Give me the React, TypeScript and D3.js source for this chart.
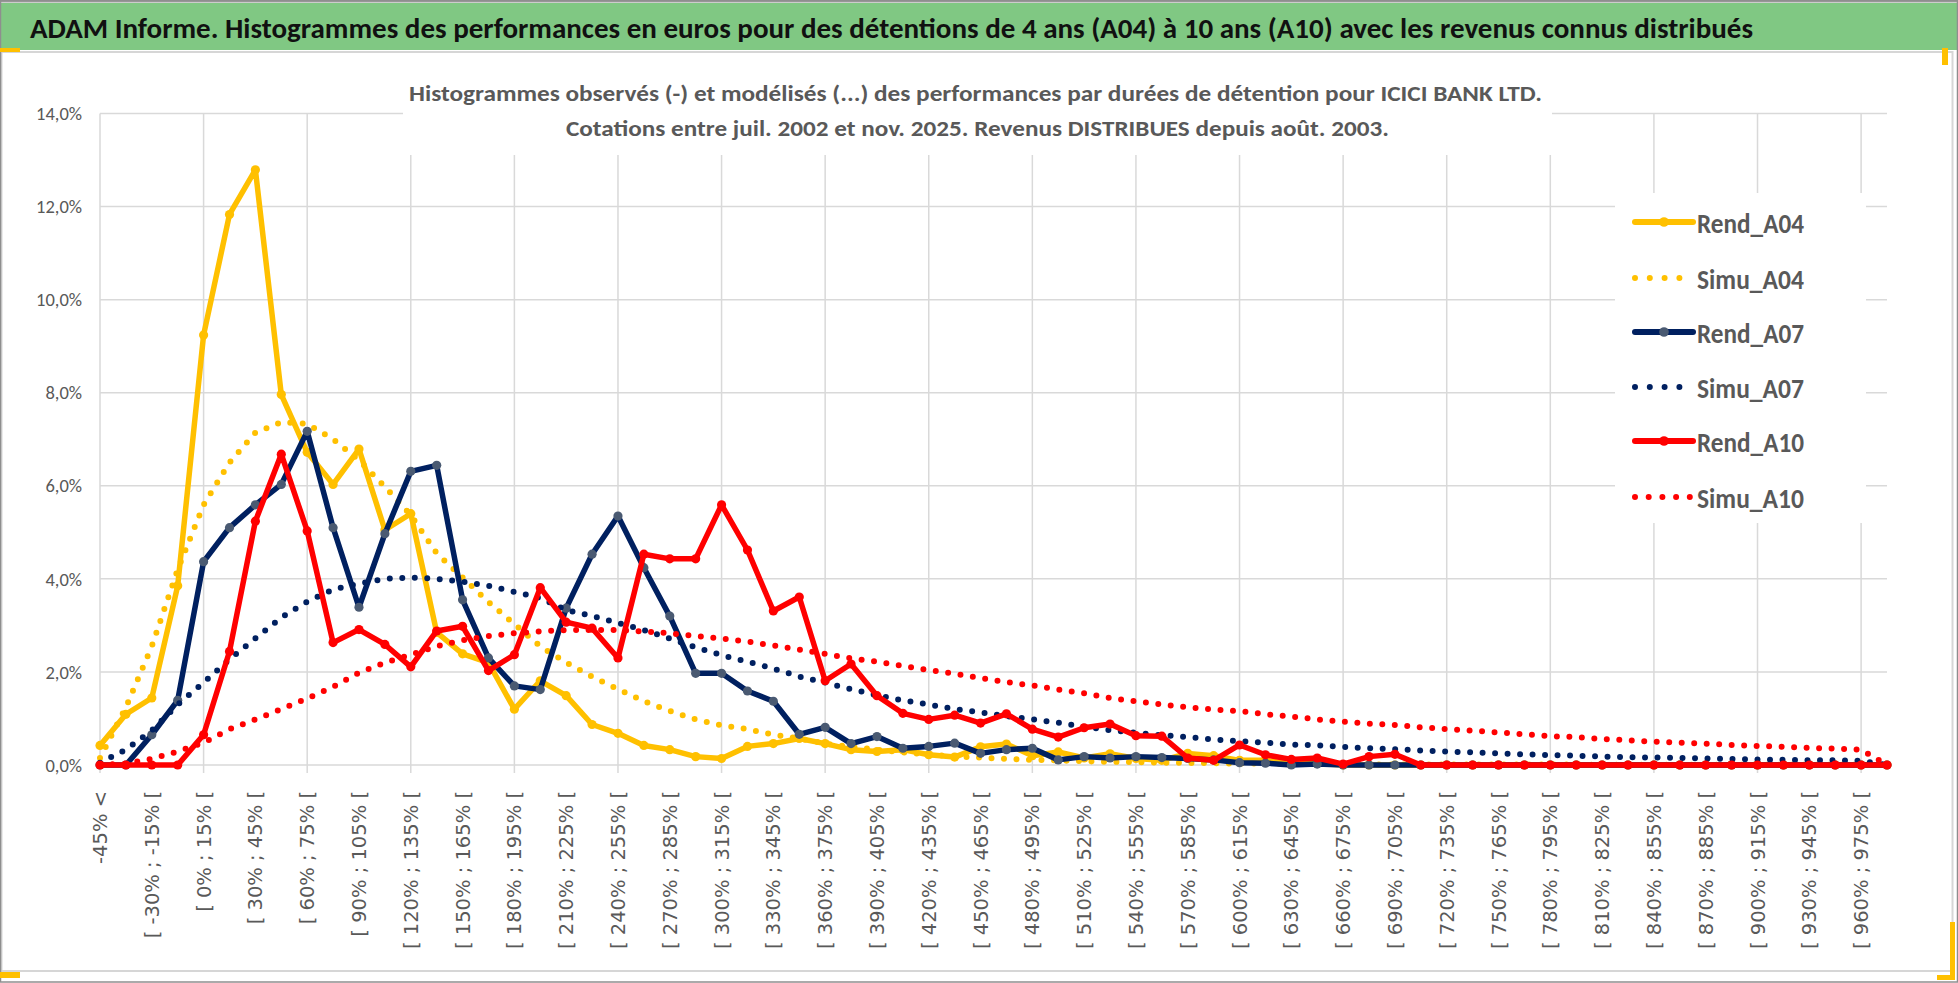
import React from "react";
import * as d3 from "d3";

const categories: string[] = [
  "-45% <", "[ -45% ; -30% [", "[ -30% ; -15% [", "[ -15% ; 0% [", "[ 0% ; 15% [",
  "[ 15% ; 30% [", "[ 30% ; 45% [", "[ 45% ; 60% [", "[ 60% ; 75% [", "[ 75% ; 90% [",
  "[ 90% ; 105% [", "[ 105% ; 120% [", "[ 120% ; 135% [", "[ 135% ; 150% [", "[ 150% ; 165% [",
  "[ 165% ; 180% [", "[ 180% ; 195% [", "[ 195% ; 210% [", "[ 210% ; 225% [", "[ 225% ; 240% [",
  "[ 240% ; 255% [", "[ 255% ; 270% [", "[ 270% ; 285% [", "[ 285% ; 300% [", "[ 300% ; 315% [",
  "[ 315% ; 330% [", "[ 330% ; 345% [", "[ 345% ; 360% [", "[ 360% ; 375% [", "[ 375% ; 390% [",
  "[ 390% ; 405% [", "[ 405% ; 420% [", "[ 420% ; 435% [", "[ 435% ; 450% [", "[ 450% ; 465% [",
  "[ 465% ; 480% [", "[ 480% ; 495% [", "[ 495% ; 510% [", "[ 510% ; 525% [", "[ 525% ; 540% [",
  "[ 540% ; 555% [", "[ 555% ; 570% [", "[ 570% ; 585% [", "[ 585% ; 600% [", "[ 600% ; 615% [",
  "[ 615% ; 630% [", "[ 630% ; 645% [", "[ 645% ; 660% [", "[ 660% ; 675% [", "[ 675% ; 690% [",
  "[ 690% ; 705% [", "[ 705% ; 720% [", "[ 720% ; 735% [", "[ 735% ; 750% [", "[ 750% ; 765% [",
  "[ 765% ; 780% [", "[ 780% ; 795% [", "[ 795% ; 810% [", "[ 810% ; 825% [", "[ 825% ; 840% [",
  "[ 840% ; 855% [", "[ 855% ; 870% [", "[ 870% ; 885% [", "[ 885% ; 900% [", "[ 900% ; 915% [",
  "[ 915% ; 930% [", "[ 930% ; 945% [", "[ 945% ; 960% [", "[ 960% ; 975% [", "[ 975% ; 990% [",
];

const yTicks: number[] = [0, 2, 4, 6, 8, 10, 12, 14];

const rendA04: number[] = [
  0.42, 1.09, 1.44, 3.85, 9.24, 11.83, 12.79, 7.96, 6.72, 6.03,
  6.79, 5.05, 5.4, 2.85, 2.39, 2.2, 1.2, 1.81, 1.49, 0.87,
  0.68, 0.42, 0.33, 0.18, 0.14, 0.4, 0.46, 0.57, 0.46, 0.33,
  0.29, 0.33, 0.22, 0.17, 0.39, 0.45, 0.2, 0.28, 0.15, 0.24,
  0.14, 0.1, 0.25, 0.2, 0.1, 0.1, 0.02, 0.04, 0, 0,
  0, 0, 0, 0, 0, 0, 0, 0, 0, 0,
  0, 0, 0, 0, 0, 0, 0, 0, 0, 0,
];

const simuA04: number[] = [
  0.15, 1.24, 2.55, 4.2, 5.59, 6.5, 7.14, 7.37, 7.33, 7.0,
  6.55, 5.98, 5.37, 4.55, 4.03, 3.5, 3.03, 2.55, 2.2, 1.9,
  1.63, 1.37, 1.16, 0.98, 0.85, 0.77, 0.65, 0.57, 0.46, 0.39,
  0.33, 0.27, 0.23, 0.18, 0.16, 0.13, 0.11, 0.1, 0.08, 0.07,
  0.06, 0.05, 0.045, 0.04, 0.03, 0.03, 0.02, 0.02, 0.02, 0.01,
  0.01, 0.01, 0.01, 0.01, 0.01, 0.01, 0.01, 0.01, 0.005, 0.005,
  0.005, 0.005, 0.005, 0.005, 0.005, 0.005, 0.005, 0.005, 0.005, 0,
];

const rendA07: number[] = [
  0, 0, 0.65, 1.39, 4.37, 5.1, 5.59, 6.03, 7.17, 5.1,
  3.39, 4.97, 6.31, 6.44, 3.55, 2.3, 1.7, 1.62, 3.37, 4.53,
  5.35, 4.24, 3.2, 1.97, 1.97, 1.59, 1.37, 0.66, 0.81, 0.46,
  0.61, 0.36, 0.4, 0.47, 0.25, 0.33, 0.36, 0.11, 0.18, 0.15,
  0.18, 0.16, 0.14, 0.11, 0.05, 0.04, 0, 0.02, 0, 0,
  0, 0, 0, 0, 0, 0, 0, 0, 0, 0,
  0, 0, 0, 0, 0, 0, 0, 0, 0, 0,
];

const simuA07: number[] = [
  0.05, 0.33, 0.74, 1.3, 1.77, 2.27, 2.72, 3.17, 3.51, 3.77,
  3.9, 4.0, 4.03, 4.0, 3.94, 3.85, 3.72, 3.59, 3.33, 3.2,
  3.05, 2.9, 2.72, 2.53, 2.36, 2.22, 2.07, 1.9, 1.77, 1.63,
  1.5, 1.39, 1.3, 1.2, 1.13, 1.05, 0.98, 0.91, 0.82, 0.75,
  0.69, 0.64, 0.6, 0.55, 0.51, 0.48, 0.44, 0.42, 0.39, 0.36,
  0.34, 0.31, 0.29, 0.27, 0.25, 0.23, 0.21, 0.2, 0.18, 0.17,
  0.16, 0.15, 0.14, 0.13, 0.12, 0.11, 0.1, 0.1, 0.09, 0,
];

const rendA10: number[] = [
  0, 0, 0, 0, 0.65, 2.44, 5.24, 6.68, 5.03, 2.63,
  2.91, 2.59, 2.11, 2.88, 2.98, 2.03, 2.37, 3.81, 3.07, 2.94,
  2.3, 4.53, 4.43, 4.43, 5.59, 4.62, 3.31, 3.61, 1.81, 2.17,
  1.49, 1.11, 0.98, 1.07, 0.9, 1.1, 0.77, 0.6, 0.8, 0.88,
  0.63, 0.62, 0.15, 0.1, 0.43, 0.22, 0.12, 0.15, 0.02, 0.18,
  0.23, 0, 0, 0, 0, 0, 0, 0, 0, 0,
  0, 0, 0, 0, 0, 0, 0, 0, 0, 0,
];

const simuA10: number[] = [
  0, 0.03, 0.13, 0.29, 0.48, 0.77, 0.98, 1.2, 1.43, 1.68,
  1.98, 2.2, 2.37, 2.55, 2.68, 2.77, 2.83, 2.87, 2.9, 2.9,
  2.9, 2.87, 2.83, 2.77, 2.72, 2.65, 2.57, 2.48, 2.39, 2.29,
  2.22, 2.13, 2.04, 1.96, 1.87, 1.78, 1.71, 1.62, 1.54, 1.44,
  1.37, 1.3, 1.24, 1.19, 1.16, 1.09, 1.04, 0.98, 0.93, 0.89,
  0.86, 0.81, 0.77, 0.74, 0.7, 0.66, 0.62, 0.6, 0.56, 0.53,
  0.5, 0.48, 0.46, 0.43, 0.41, 0.39, 0.37, 0.35, 0.33, 0,
];

type Series = { name: string; values: number[]; color: string; kind: "solid" | "dot"; marker?: string };

const series: Series[] = [
  { name: "Rend_A04", values: rendA04, color: "#FFC000", kind: "solid", marker: "#FFC000" },
  { name: "Simu_A04", values: simuA04, color: "#FFC000", kind: "dot" },
  { name: "Rend_A07", values: rendA07, color: "#002060", kind: "solid", marker: "#4A5A72" },
  { name: "Simu_A07", values: simuA07, color: "#002060", kind: "dot" },
  { name: "Rend_A10", values: rendA10, color: "#FF0000", kind: "solid", marker: "#FF0000" },
  { name: "Simu_A10", values: simuA10, color: "#FF0000", kind: "dot" },
];

const titleText =
  "ADAM Informe. Histogrammes des performances en euros pour des détentions de 4 ans (A04) à 10 ans (A10) avec les revenus connus distribués";
const subtitle1 =
  "Histogrammes observés (-) et modélisés (...) des performances par durées de détention pour ICICI BANK LTD.";
const subtitle2 = "Cotations entre juil. 2002 et nov. 2025. Revenus DISTRIBUES depuis août. 2003.";

const CAL = "Carlito, Lato, 'Open Sans', sans-serif";
const GRID = "#D9D9D9";
const TXT = "#595959";

export default function App() {
  const W = 1958;
  const H = 983;
  const x = d3.scalePoint<string>().domain(categories).range([100, 1887]).padding(0);
  const y = d3.scaleLinear().domain([0, 14]).range([765, 113.5]);
  const line = d3
    .line<number>()
    .x((_, i) => x(categories[i]) as number)
    .y((d) => y(d));
  const fmt = (v: number) => d3.format(".1f")(v).replace(".", ",") + "%";

  const legendYs = [222, 278, 332, 387, 441, 497];
  const dotStyle = { strokeDasharray: "0 12.5", strokeLinecap: "round" as const, strokeWidth: 6 };

  return (
    <div>
      <style>{`body{margin:0;background:#fff}`}</style>
      <svg width={W} height={H} style={{ display: "block", background: "#fff" }}>
        {/* frame & title band */}
        <rect x={0} y={0} width={W} height={H} fill="#fff" />
        <rect x={0} y={3} width={W} height={47} fill="#80C883" />
        <rect x={0} y={0} width={W} height={2.5} fill="#9A9A9A" />
        <rect x={1.5} y={52} width={1951} height={919} fill="none" stroke="#D6D6D6" strokeWidth={2} />
        <rect x={0.5} y={0.5} width={W - 1} height={H - 1.5} fill="none" stroke="#8E8E8E" strokeWidth={1.5} />
        <text
          x={30}
          y={38}
          fontFamily={CAL}
          fontWeight={700}
          fontSize={28.5}
          fill="#111"
          textLength={1723}
          lengthAdjust="spacingAndGlyphs"
        >
          {titleText}
        </text>
        {/* selection handles */}
        <rect x={0} y={48} width={20} height={4} fill="#FFC000" />
        <rect x={1942} y={48} width={6} height={17} fill="#FFC000" />
        <rect x={0} y={972} width={20} height={6} fill="#FFC000" />
        <rect x={1950} y={922} width={5} height={58} fill="#FFC000" />
        <rect x={1937} y={975} width={18} height={5} fill="#FFC000" />

        {/* gridlines */}
        {yTicks.map((t) => (
          <line key={"h" + t} x1={100} x2={1887} y1={y(t)} y2={y(t)} stroke={GRID} strokeWidth={1.5} />
        ))}
        {categories
          .filter((_, i) => i % 4 === 0)
          .map((c) => (
            <line key={"v" + c} x1={x(c)} x2={x(c)} y1={y(14)} y2={773} stroke={GRID} strokeWidth={1.5} />
          ))}

        {/* subtitle box */}
        <rect x={403} y={62} width={1149} height={93} fill="#fff" />
        <text
          x={409}
          y={101}
          fontFamily={CAL}
          fontWeight={700}
          fontSize={23}
          fill={TXT}
          textLength={1133}
          lengthAdjust="spacingAndGlyphs"
        >
          {subtitle1}
        </text>
        <text
          x={566}
          y={136}
          fontFamily={CAL}
          fontWeight={700}
          fontSize={23}
          fill={TXT}
          textLength={823}
          lengthAdjust="spacingAndGlyphs"
        >
          {subtitle2}
        </text>

        {/* y axis labels */}
        {yTicks.map((t) => (
          <text
            key={"yl" + t}
            x={82}
            y={y(t)}
            dy="0.36em"
            textAnchor="end"
            fontFamily={CAL}
            fontSize={18.5}
            fill={TXT}
          >
            {fmt(t)}
          </text>
        ))}

        {/* x axis labels */}
        {categories.map((c, i) =>
          i % 2 === 0 ? (
            <text
              key={"xl" + i}
              transform={`translate(${x(c)},791) rotate(-90)`}
              dy="0.36em"
              textAnchor="end"
              fontFamily="'DejaVu Sans', Verdana, sans-serif"
              fontSize={19.5}
              fill={TXT}
            >
              {c}
            </text>
          ) : null
        )}

        {/* series */}
        {series.map((s) => (
          <g key={s.name}>
            {s.kind === "solid" ? (
              <>
                <path d={line(s.values) || ""} fill="none" stroke={s.color} strokeWidth={5.5} strokeLinejoin="round" />
                {s.values.map((v, i) => (
                  <circle key={i} cx={x(categories[i])} cy={y(v)} r={4.6} fill={s.marker} />
                ))}
              </>
            ) : (
              <path d={line(s.values) || ""} fill="none" stroke={s.color} {...dotStyle} />
            )}
          </g>
        ))}

        {/* legend */}
        <rect x={1615} y={193} width={251} height={330} fill="#fff" />
        {series.map((s, k) => (
          <g key={"lg" + s.name}>
            {s.kind === "solid" ? (
              <>
                <line x1={1635} x2={1693} y1={legendYs[k]} y2={legendYs[k]} stroke={s.color} strokeWidth={6} strokeLinecap="round" />
                <circle cx={1664} cy={legendYs[k]} r={4.8} fill={s.marker} />
              </>
            ) : (
              <line
                x1={1635}
                x2={k === 5 ? 1690 : 1680}
                y1={legendYs[k]}
                y2={legendYs[k]}
                stroke={s.color}
                strokeDasharray={k === 5 ? "0 13.7" : "0 14.8"}
                strokeLinecap="round"
                strokeWidth={6}
              />
            )}
            <text
              x={1697}
              y={legendYs[k] + 10.5}
              fontFamily={CAL}
              fontWeight={700}
              fontSize={29}
              fill={TXT}
              textLength={107}
              lengthAdjust="spacingAndGlyphs"
            >
              {s.name}
            </text>
          </g>
        ))}
      </svg>
    </div>
  );
}
